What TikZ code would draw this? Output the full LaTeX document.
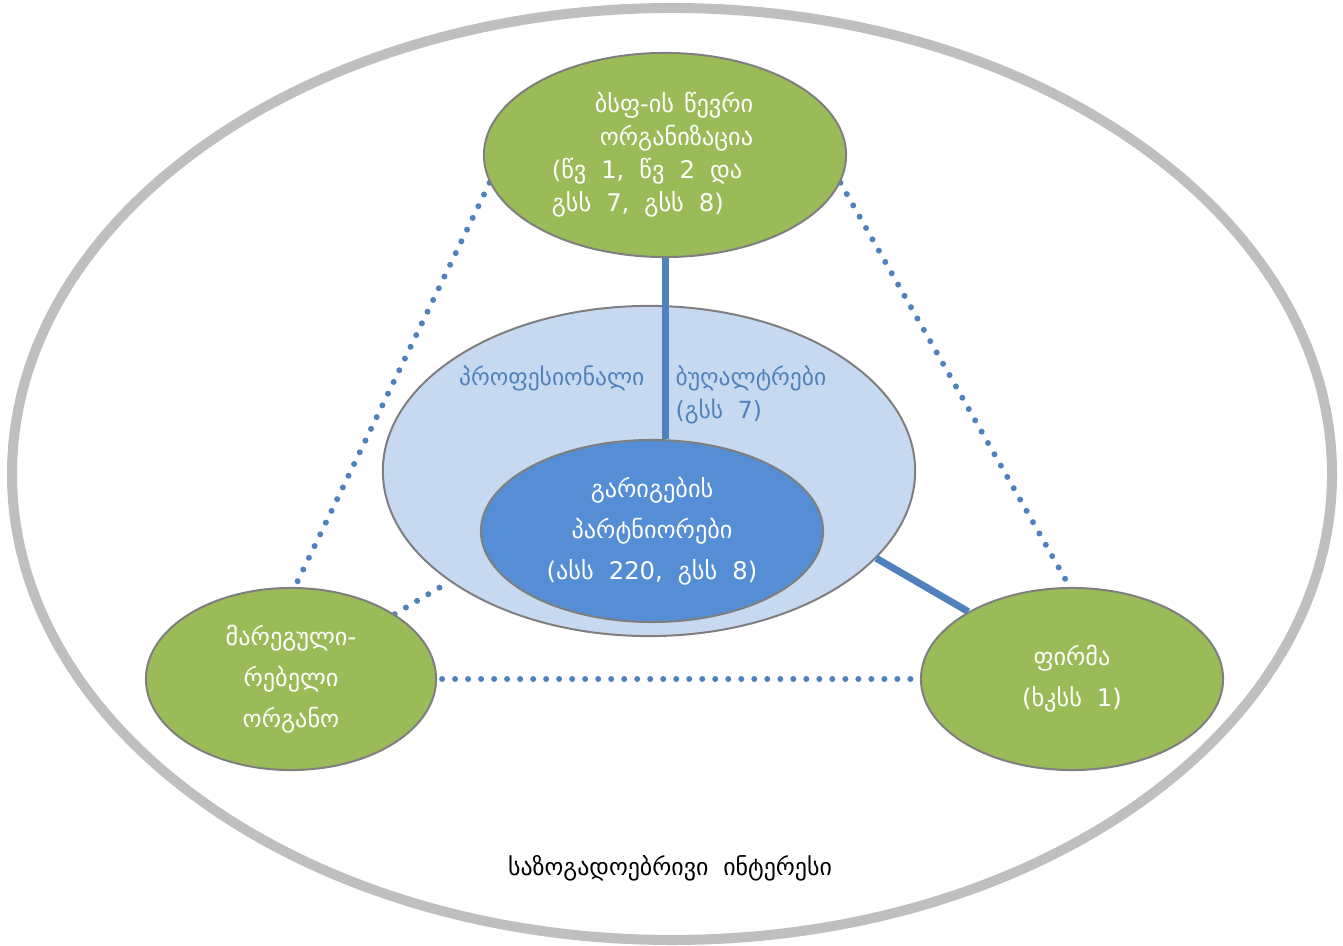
\documentclass[tikz,border=0pt]{standalone}
\usepackage{fontspec}
\newfontfamily\geo[Script=Georgian]{DejaVu Sans}
\usetikzlibrary{positioning,shapes.geometric}
\definecolor{ringgray}{HTML}{BFBFBF}
\definecolor{edgegray}{HTML}{7F7F7F}
\definecolor{leafgreen}{HTML}{9BBB59}
\definecolor{paleblue}{HTML}{C6D9F1}
\definecolor{midblue}{HTML}{558ED5}
\definecolor{linkblue}{HTML}{4F81BD}
\pgfdeclarelayer{bg}
\pgfdeclarelayer{links}
\pgfsetlayers{bg,links,main}
\newcommand\geotext[2]{\geo\fontsize{#1}{#2}\selectfont\spaceskip=0.62em\relax}
\tikzset{
  party/.style={ellipse, draw=edgegray, line width=0.02cm, inner sep=0pt,
    text=white, align=center, font=\geotext{6.9}{11.6}},
  greenparty/.style={party, fill=leafgreen},
  coreparty/.style={party, fill=midblue},
  profbox/.style={ellipse, draw=edgegray, line width=0.02cm, fill=paleblue, inner sep=0pt},
  proftext/.style={text=linkblue, inner sep=0pt, font=\geotext{6.7}{9}},
  solidlink/.style={draw=linkblue, line width=0.07cm},
  dotlink/.style={draw=linkblue, line width=0.06cm, line cap=round, dash pattern=on 0pt off 0.13cm},
}
\begin{document}
\begin{tikzpicture}[x=0.01cm, y=-0.01cm]
\useasboundingbox (0,0) rectangle (1343,946);
% background: public interest and professional accountants
\begin{pgfonlayer}{bg}
  \draw[ringgray, line width=0.1cm] (672,474) ellipse [x radius=660, y radius=466];
  \node[profbox, minimum width=5.32cm, minimum height=3.3cm] (prof) at (649,471) {};
  \node[proftext, anchor=east] (profleft) at (645,378) {პროფესიონალი};
  \node[proftext, anchor=west] (profright) at (675,378) {ბუღალტრები};
  \node[proftext, anchor=west] (profcode) at (675,412) {(გსს 7)};
\end{pgfonlayer}
% parties
\node[greenparty, minimum width=3.62cm, minimum height=2.04cm, align=left,
  font=\geotext{6.9}{9.4}] (member) at (665,155)
  {\hspace*{0.43cm}ბსფ-ის\hspace{0.1cm}წევრი\\\hspace*{0.48cm}ორგანიზაცია\\(წვ 1, წვ 2 და\hspace*{0.36cm}\mbox{}\\გსს 7, გსს 8)};
\node[coreparty, minimum width=3.42cm, minimum height=1.82cm] (partner) at (652,531)
  {გარიგების\\პარტნიორები\\(ასს 220, გსს 8)};
\node[greenparty, minimum width=2.9cm, minimum height=1.82cm] (regulator) at (291,679)
  {მარეგული-\\რებელი\\ორგანო};
\node[greenparty, minimum width=3.02cm, minimum height=1.82cm] (firm) at (1072,679)
  {ფირმა\\(ხკსს 1)};
\node[font=\geotext{6.8}{8}, inner sep=0pt] (public) at (670,868)
  {საზოგადოებრივი ინტერესი};
% links
\begin{pgfonlayer}{links}
  \draw[solidlink] (member.south) -- (member.south |- partner.north);
  \draw[solidlink] (firm.147) -- (prof.339);
  \draw[dotlink] (member.189) -- ([yshift=-0.08cm]regulator.north);
  \draw[dotlink] (member.351) -- ([yshift=-0.04cm]firm.north);
  \draw[dotlink] (regulator.32) -- (prof.209);
  \draw[dotlink] ([xshift=0.05cm]regulator.east) -- (firm.west);
\end{pgfonlayer}
\end{tikzpicture}
\end{document}
